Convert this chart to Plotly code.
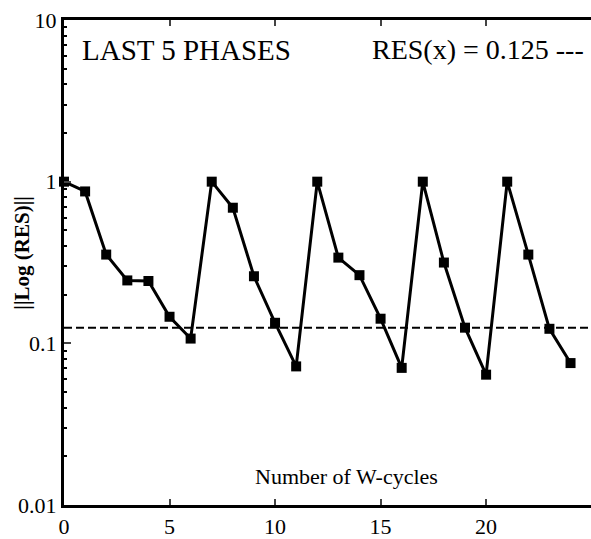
import plotly.graph_objects as go

cycles = list(range(25))
residual = [1.0, 0.87, 0.354, 0.245, 0.243, 0.146, 0.107,
            1.0, 0.69, 0.26, 0.134, 0.072,
            1.0, 0.339, 0.264, 0.142, 0.0705,
            1.0, 0.316, 0.125, 0.064,
            1.0, 0.354, 0.123, 0.0755]
res_threshold = 0.125
x_ticks = [0, 5, 10, 15, 20]
y_ticks = [0.01, 0.1, 1, 10]
y_ticklabels = ["0.01", "0.1", "1", "10"]
y_minor = [m * d for d in (0.01, 0.1, 1) for m in range(2, 10)]

FONT = "Liberation Serif"

fig = go.Figure()
fig.add_trace(go.Scatter(
    x=cycles, y=residual, mode="lines+markers",
    line=dict(color="black", width=3),
    marker=dict(symbol="square", size=10, color="black"),
    showlegend=False, cliponaxis=False,
))
fig.add_hline(y=res_threshold, line=dict(color="black", width=2, dash="8px,4px"))

fig.update_xaxes(
    range=[0, 24.97], tickvals=x_ticks, ticks="inside", ticklen=6, tickwidth=2,
    showline=True, linewidth=3, linecolor="black", mirror="allticks",
    showgrid=False, zeroline=False,
    tickfont=dict(family=FONT, size=22, color="black"),
)
fig.update_yaxes(
    type="log", range=[-2, 1], tickvals=y_ticks, ticktext=y_ticklabels,
    ticks="inside", ticklen=7, tickwidth=2,
    minor=dict(tickvals=y_minor, ticks="inside", ticklen=3, tickwidth=2,
               tickcolor="black", showgrid=False),
    showline=True, linewidth=3, linecolor="black",
    showgrid=False, zeroline=False,
    tickfont=dict(family=FONT, size=22, color="black"),
)

fig.add_annotation(text="<b>||Log (RES)||</b>", xref="paper", yref="paper", x=-0.08, y=0.52,
                   xanchor="center", yanchor="middle", textangle=-90, showarrow=False,
                   font=dict(family=FONT, size=21, color="black"))
fig.add_annotation(text="LAST 5 PHASES", xref="paper", yref="paper", x=0.03, y=0.975,
                   xanchor="left", yanchor="top", showarrow=False,
                   font=dict(family=FONT, size=29, color="black"))
fig.add_annotation(text="RES(x) = 0.125 ---", xref="paper", yref="paper", x=0.99, y=0.975,
                   xanchor="right", yanchor="top", showarrow=False,
                   font=dict(family=FONT, size=28, color="black"))
fig.add_annotation(text="Number of W-cycles", xref="paper", yref="paper", x=0.537, y=0.058,
                   xanchor="center", yanchor="middle", showarrow=False,
                   font=dict(family=FONT, size=22, color="black"))

fig.update_layout(
    width=591, height=539,
    margin=dict(l=64, r=0, t=20, b=27),
    paper_bgcolor="white", plot_bgcolor="white",
)
fig.write_html("out.html")
